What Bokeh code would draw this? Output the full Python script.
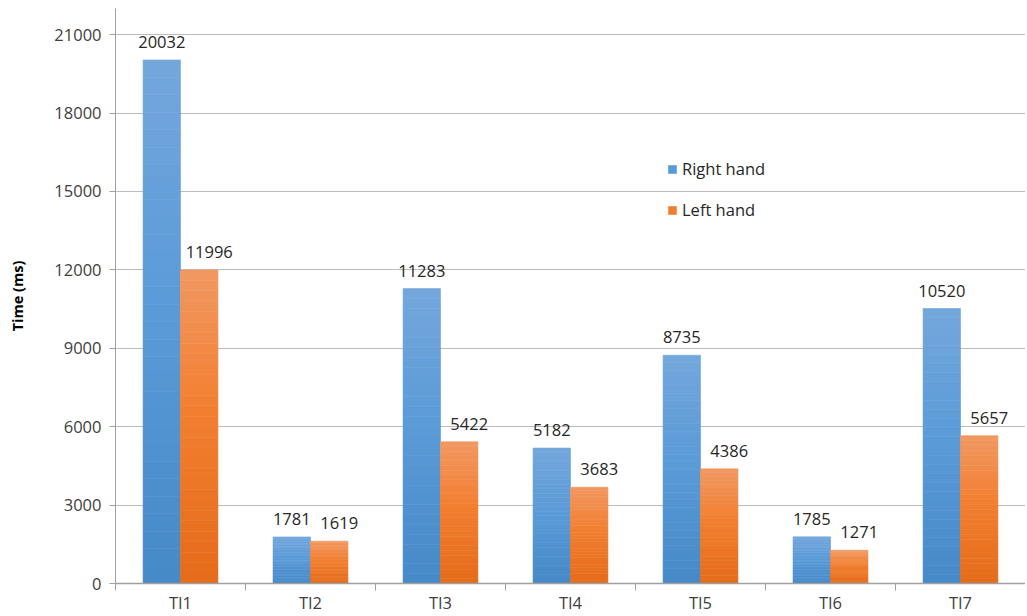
from bokeh.plotting import figure
from bokeh.models import (ColumnDataSource, FixedTicker, Range1d, Legend, LegendItem)
from bokeh.embed import file_html
from bokeh.resources import INLINE
from bokeh.core.properties import value

categories = ["TI1", "TI2", "TI3", "TI4", "TI5", "TI6", "TI7"]
right_hand = [20032, 1781, 11283, 5182, 8735, 1785, 10520]
left_hand = [11996, 1619, 5422, 3683, 4386, 1271, 5657]
y_ticks = [0, 3000, 6000, 9000, 12000, 15000, 18000, 21000]

FONT = "Open Sans"
TEXT_COLOR = "#404040"
BAR_W = 0.288
N_STRIPS = 30

BLUE_STOPS = [(0.0, (0x46, 0x89, 0xc8)), (0.55, (0x5b, 0x9b, 0xd8)), (1.0, (0x74, 0xa7, 0xdc))]
ORANGE_STOPS = [(0.0, (0xe4, 0x6b, 0x1a)), (0.55, (0xf2, 0x7f, 0x30)), (1.0, (0xf1, 0x98, 0x62))]


def grad_color(stops, t):
    for (t0, c0), (t1, c1) in zip(stops[:-1], stops[1:]):
        if t <= t1:
            f = (t - t0) / (t1 - t0) if t1 > t0 else 0
            rgb = [round(a + (b - a) * f) for a, b in zip(c0, c1)]
            return "#%02x%02x%02x" % tuple(rgb)
    return "#%02x%02x%02x" % stops[-1][1]


def strip_source(vals, offset, stops):
    xs, bottoms, tops, colors = [], [], [], []
    for i, v in enumerate(vals):
        for k in range(N_STRIPS):
            xs.append(i + 0.5 + offset)
            bottoms.append(v * k / N_STRIPS)
            tops.append(v * (k + 1) / N_STRIPS)
            colors.append(grad_color(stops, (k + 0.5) / N_STRIPS))
    return ColumnDataSource(dict(x=xs, bottom=bottoms, top=tops, color=colors))


p = figure(width=1025, height=616, output_backend="svg", toolbar_location=None,
           x_range=Range1d(0, len(categories)), y_range=Range1d(0, 22000),
           min_border_left=115, min_border_right=0, min_border_top=8, min_border_bottom=33)
p.outline_line_color = None
p.background_fill_color = "white"
p.border_fill_color = "white"

src_r = strip_source(right_hand, -BAR_W / 2, BLUE_STOPS)
src_l = strip_source(left_hand, BAR_W / 2, ORANGE_STOPS)
r_blue = p.vbar(x="x", bottom="bottom", top="top", width=BAR_W, source=src_r,
                fill_color="color", line_color="color", line_width=0.6)
r_orange = p.vbar(x="x", bottom="bottom", top="top", width=BAR_W, source=src_l,
                  fill_color="color", line_color="color", line_width=0.6)

# value labels
lab_r = ColumnDataSource(dict(x=[i + 0.5 - BAR_W / 2 for i in range(len(categories))],
                              y=right_hand, t=[str(v) for v in right_hand]))
lab_l = ColumnDataSource(dict(x=[i + 0.5 + BAR_W / 2 for i in range(len(categories))],
                              y=left_hand, t=[str(v) for v in left_hand]))
for src, xo in ((lab_r, 0), (lab_l, 10)):
    p.text(x="x", y="y", text="t", source=src, x_offset=xo, y_offset=-12,
           text_align="center", text_baseline="bottom",
           text_font=value(FONT), text_font_size="16.5px", text_color="#262626")

# axes
p.xaxis.ticker = FixedTicker(ticks=[i + 0.5 for i in range(len(categories))],
                             minor_ticks=list(range(len(categories) + 1)))
p.xaxis.major_label_overrides = {i + 0.5: c for i, c in enumerate(categories)}
p.xaxis.major_tick_out = 0
p.xaxis.major_tick_in = 0
p.xaxis.minor_tick_out = 7
p.xaxis.minor_tick_in = 0
p.xaxis.minor_tick_line_color = "#a0a0a0"
p.xaxis.axis_line_color = "#a0a0a0"
p.xaxis.axis_line_width = 1.5
p.xaxis.major_label_standoff = 0
p.xaxis.major_label_text_font = FONT
p.xaxis.major_label_text_font_size = "16.5px"
p.xaxis.major_label_text_color = TEXT_COLOR

p.yaxis.ticker = FixedTicker(ticks=y_ticks)
p.yaxis.major_tick_out = 6
p.yaxis.major_tick_in = 0
p.yaxis.minor_tick_line_color = None
p.yaxis.major_tick_line_color = "#a0a0a0"
p.yaxis.axis_line_color = "#a0a0a0"
p.yaxis.major_label_standoff = 8
p.yaxis.major_label_text_font = FONT
p.yaxis.major_label_text_font_size = "16.5px"
p.yaxis.major_label_text_color = TEXT_COLOR
p.yaxis.axis_label = "Time (ms)"
p.yaxis.axis_label_text_font = FONT
p.yaxis.axis_label_text_font_size = "14.5px"
p.yaxis.axis_label_text_font_style = "bold"
p.yaxis.axis_label_text_color = "#000000"
p.yaxis.axis_label_standoff = 24

p.xgrid.grid_line_color = None
p.ygrid.grid_line_color = "#bcbcbc"
p.ygrid.grid_line_width = 1.2

mid = N_STRIPS // 2
legend = Legend(items=[LegendItem(label="Right hand", renderers=[r_blue], index=mid),
                       LegendItem(label="Left hand", renderers=[r_orange], index=mid)],
                location=(552, 362), orientation="vertical",
                glyph_width=10, glyph_height=10, label_height=20, spacing=18,
                padding=0, margin=0, border_line_color=None, background_fill_alpha=0,
                label_text_font=FONT, label_text_font_size="16.5px",
                label_text_color="#262626", label_standoff=5)
p.add_layout(legend, "center")

open("out.html", "w").write(file_html(p, INLINE))
